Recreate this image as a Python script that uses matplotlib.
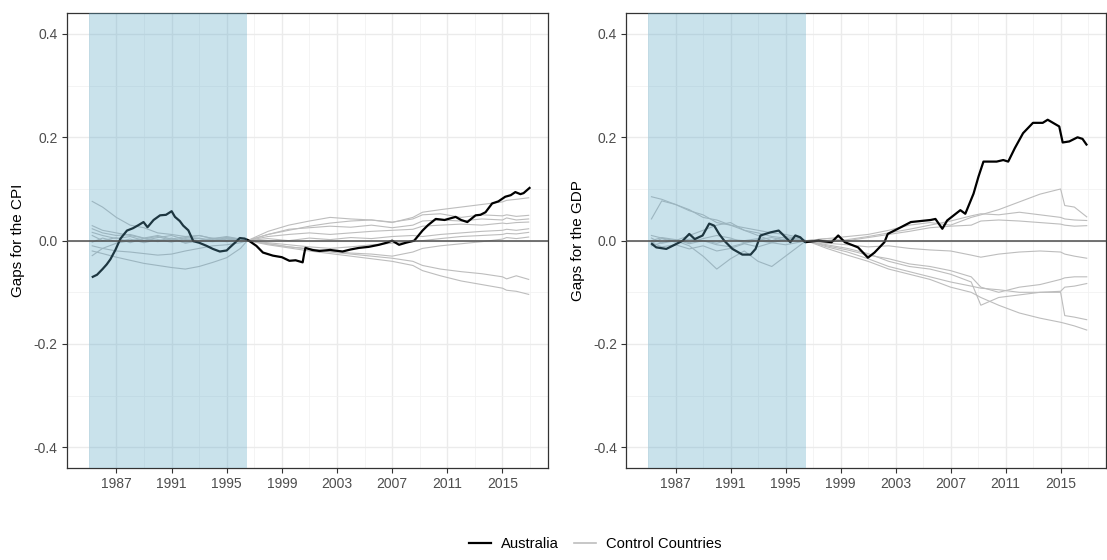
import numpy as np
import matplotlib
matplotlib.use("Agg")
import matplotlib.pyplot as plt
from matplotlib.lines import Line2D

plt.rcParams['font.family'] = ['Liberation Sans', 'DejaVu Sans']

# Australia gaps
cpi_aus_years = [1985.29, 1985.6, 1986.0, 1986.3, 1986.57, 1986.93, 1987.3, 1987.77, 1988.2, 1988.6,
                 1988.97, 1989.26, 1989.7, 1990.17, 1990.6, 1991.01, 1991.25, 1991.6, 1991.85, 1992.22,
                 1992.58, 1993.0, 1993.54, 1994.0, 1994.5, 1995.0, 1995.23, 1995.6, 1995.95, 1996.3,
                 1996.55, 1997.15, 1997.63, 1998.35, 1999.0, 1999.55, 2000.0, 2000.51, 2000.6, 2000.71,
                 2001.2, 2001.72, 2002.5, 2003.4, 2004.0, 2004.6, 2005.3, 2006.05, 2006.6, 2007.0,
                 2007.5, 2008.0, 2008.6, 2009.2, 2009.6, 2010.16, 2010.8, 2011.6, 2012.0, 2012.45,
                 2013.05, 2013.4, 2013.77, 2014.25, 2014.7, 2015.2, 2015.6, 2015.93, 2016.3, 2016.53,
                 2016.96]
cpi_aus = [-0.070, -0.066, -0.055, -0.046, -0.036, -0.018, 0.004, 0.0195, 0.024, 0.030,
           0.036, 0.026, 0.040, 0.049, 0.050, 0.057, 0.046, 0.038, 0.029, 0.020,
           -0.001, -0.004, -0.010, -0.016, -0.021, -0.019, -0.013, -0.004, 0.005, 0.004,
           0.001, -0.010, -0.023, -0.029, -0.032, -0.039, -0.038, -0.042, -0.028, -0.014,
           -0.018, -0.020, -0.018, -0.021, -0.017, -0.014, -0.012, -0.008, -0.004, 0.000,
           -0.008, -0.004, 0.000, 0.0195, 0.030, 0.042, 0.040, 0.046, 0.040, 0.036,
           0.049, 0.050, 0.055, 0.072, 0.076, 0.085, 0.088, 0.094, 0.090, 0.092,
           0.102]

gdp_aus_years = [1985.29, 1985.6, 1986.33, 1987.05, 1987.53, 1988.0, 1988.4, 1988.97, 1989.45, 1989.81,
                 1990.17, 1990.54, 1991.14, 1991.86, 1992.46, 1992.82, 1993.18, 1993.9, 1994.5, 1994.87,
                 1995.35, 1995.71, 1996.07, 1996.43, 1997.4, 1998.35, 1998.83, 1999.31, 2000.27, 2000.99,
                 2001.47, 2002.19, 2002.43, 2003.39, 2004.11, 2005.55, 2005.9, 2006.4, 2006.75, 2007.71,
                 2008.07, 2008.67, 2009.03, 2009.39, 2010.35, 2010.83, 2011.19, 2011.67, 2012.27, 2012.99,
                 2013.7, 2014.06, 2014.9, 2015.15, 2015.63, 2016.23, 2016.59, 2016.88]
gdp_aus = [-0.0065, -0.013, -0.016, -0.0065, 0.000, 0.013, 0.003, 0.010, 0.033, 0.029,
           0.013, 0.000, -0.016, -0.027, -0.027, -0.016, 0.010, 0.016, 0.0195, 0.010,
           -0.003, 0.010, 0.0065, -0.003, 0.000, -0.003, 0.010, -0.003, -0.013, -0.033,
           -0.023, -0.003, 0.013, 0.026, 0.036, 0.040, 0.042, 0.023, 0.039, 0.059,
           0.052, 0.091, 0.124, 0.153, 0.153, 0.156, 0.153, 0.179, 0.208, 0.228,
           0.228, 0.234, 0.221, 0.190, 0.192, 0.200, 0.197, 0.186]

# control countries (shared year grid)
ctrl_years = [1985.25, 1986, 1987, 1988, 1989, 1990, 1991, 1992, 1993, 1994, 1995, 1996, 1996.5,
              1998, 1999.5, 2001, 2002.5, 2004, 2005.5, 2007, 2008.5, 2009.2, 2010.5, 2012, 2013.5,
              2015, 2015.3, 2016, 2016.9]

cpi_ctrl = [
    [0.076, 0.065, 0.045, 0.030, 0.025, 0.015, 0.012, 0.008, 0.010, 0.004, 0.006, 0.003, 0.0, 0.012, 0.020, 0.028, 0.034, 0.038, 0.040, 0.035, 0.045, 0.055, 0.060, 0.065, 0.070, 0.075, 0.078, 0.080, 0.083],
    [0.029, 0.020, 0.015, 0.010, 0.005, 0.000, 0.005, -0.005, 0.000, 0.005, 0.000, 0.005, 0.0, 0.018, 0.030, 0.038, 0.045, 0.042, 0.040, 0.036, 0.042, 0.050, 0.052, 0.045, 0.050, 0.048, 0.050, 0.047, 0.049],
    [0.023, 0.015, 0.010, 0.012, 0.005, 0.010, 0.003, 0.008, 0.004, 0.000, 0.006, 0.002, 0.0, 0.012, 0.022, 0.025, 0.028, 0.026, 0.030, 0.025, 0.030, 0.038, 0.040, 0.038, 0.042, 0.040, 0.044, 0.040, 0.042],
    [0.016, 0.010, 0.004, 0.008, 0.000, 0.006, 0.010, 0.002, 0.005, 0.000, 0.004, 0.001, 0.0, 0.008, 0.012, 0.015, 0.012, 0.015, 0.018, 0.020, 0.022, 0.028, 0.030, 0.032, 0.030, 0.034, 0.033, 0.035, 0.036],
    [-0.003, 0.005, -0.002, 0.003, -0.004, 0.002, -0.003, 0.004, 0.000, -0.002, 0.003, 0.000, 0.0, 0.004, 0.000, 0.005, 0.002, 0.006, 0.004, 0.008, 0.010, 0.008, 0.012, 0.015, 0.018, 0.020, 0.022, 0.020, 0.023],
    [-0.010, -0.015, -0.020, -0.022, -0.025, -0.028, -0.026, -0.020, -0.015, -0.010, -0.008, -0.004, 0.0, -0.004, -0.008, -0.012, -0.015, -0.012, -0.008, -0.005, -0.002, 0.000, 0.004, 0.008, 0.010, 0.012, 0.014, 0.013, 0.016],
    [-0.020, -0.025, -0.032, -0.038, -0.044, -0.048, -0.052, -0.055, -0.050, -0.042, -0.033, -0.015, 0.0, -0.006, -0.012, -0.016, -0.020, -0.024, -0.026, -0.030, -0.022, -0.015, -0.010, -0.006, -0.002, 0.003, 0.006, 0.004, 0.007],
    [-0.029, -0.015, -0.005, 0.000, 0.004, -0.002, 0.003, -0.004, 0.000, 0.002, -0.002, 0.002, 0.0, -0.006, -0.012, -0.016, -0.022, -0.026, -0.030, -0.034, -0.040, -0.048, -0.055, -0.060, -0.064, -0.070, -0.074, -0.068, -0.075],
    [0.010, 0.000, 0.006, -0.004, 0.004, 0.008, 0.000, 0.006, 0.010, 0.004, 0.008, 0.003, 0.0, -0.008, -0.014, -0.020, -0.025, -0.030, -0.035, -0.040, -0.048, -0.058, -0.068, -0.078, -0.085, -0.092, -0.096, -0.098, -0.104],
]

gdp_ctrl = [
    [0.085, 0.080, 0.070, 0.060, 0.045, 0.040, 0.030, 0.025, 0.020, 0.015, 0.012, 0.006, 0.0, 0.004, 0.008, 0.012, 0.020, 0.030, 0.035, 0.030, 0.045, 0.050, 0.060, 0.075, 0.090, 0.100, 0.068, 0.065, 0.046],
    [0.042, 0.077, 0.070, 0.058, 0.050, 0.035, 0.030, 0.020, 0.010, 0.000, 0.008, 0.004, 0.0, -0.004, 0.002, 0.008, 0.015, 0.022, 0.030, 0.038, 0.048, 0.052, 0.050, 0.055, 0.050, 0.045, 0.042, 0.040, 0.039],
    [0.010, 0.005, 0.000, -0.010, -0.030, -0.055, -0.035, -0.020, -0.040, -0.050, -0.030, -0.010, 0.0, 0.004, 0.000, 0.006, 0.012, 0.018, 0.025, 0.028, 0.030, 0.038, 0.040, 0.038, 0.035, 0.032, 0.030, 0.028, 0.029],
    [0.005, -0.005, 0.000, 0.010, 0.020, 0.030, 0.035, 0.020, 0.015, 0.008, 0.005, 0.003, 0.0, -0.005, -0.008, -0.012, -0.010, -0.015, -0.018, -0.020, -0.028, -0.032, -0.026, -0.022, -0.020, -0.022, -0.026, -0.030, -0.034],
    [-0.005, 0.004, -0.003, 0.003, 0.000, -0.005, 0.002, 0.000, 0.004, -0.002, 0.003, 0.000, 0.0, -0.010, -0.018, -0.028, -0.035, -0.045, -0.050, -0.058, -0.070, -0.090, -0.100, -0.090, -0.085, -0.075, -0.072, -0.070, -0.070],
    [0.000, 0.006, 0.002, -0.004, 0.004, 0.010, 0.005, -0.004, 0.002, 0.006, 0.000, 0.003, 0.0, -0.008, -0.015, -0.025, -0.040, -0.050, -0.055, -0.065, -0.080, -0.125, -0.110, -0.105, -0.100, -0.098, -0.090, -0.088, -0.083],
    [-0.010, -0.004, 0.002, -0.006, 0.000, -0.008, -0.012, -0.005, 0.000, -0.004, 0.002, -0.002, 0.0, -0.012, -0.022, -0.035, -0.050, -0.060, -0.070, -0.080, -0.088, -0.092, -0.095, -0.100, -0.100, -0.100, -0.145, -0.148, -0.153],
    [-0.004, -0.012, -0.008, -0.016, -0.010, -0.020, -0.015, -0.006, -0.012, -0.004, -0.008, -0.003, 0.0, -0.015, -0.028, -0.040, -0.055, -0.065, -0.075, -0.090, -0.100, -0.110, -0.125, -0.140, -0.150, -0.158, -0.160, -0.165, -0.173],
]

pre_start, pre_end = 1985.0, 1996.5
x_ticks = [1987, 1991, 1995, 1999, 2003, 2007, 2011, 2015]
y_ticks = [-0.4, -0.2, 0.0, 0.2, 0.4]
y_labels = ['-0.4', '-0.2', '0.0', '0.2', '0.4']

fig = plt.figure(figsize=(11.07, 5.6), dpi=100)
W, H = 1107, 560
bottom = 1 - 468 / H
height = (468 - 13.3) / H
ax1 = fig.add_axes([66.7 / W, bottom, 481.3 / W, height])
ax2 = fig.add_axes([626 / W, bottom, 480 / W, height])


def draw_panel(ax, aus_x, aus_y, ctrl, ylabel):
    for c in ctrl:
        ax.plot(ctrl_years, c, color='#BDBDBD', lw=0.8, zorder=2)
    ax.plot(aus_x, aus_y, color='black', lw=1.6, zorder=3)
    # shaded pre-treatment window sits on top of the lines, semi-transparent
    ax.axvspan(pre_start, pre_end, color='#5BA7C5', alpha=0.33, lw=0, zorder=4)
    ax.axhline(0, color='#4D4D4D', lw=1.1, zorder=5)

    ax.set_xlim(1983.4, 2018.3)
    ax.set_ylim(-0.44, 0.44)
    ax.set_xticks(x_ticks)
    ax.set_xticks(np.arange(1985, 2019, 4), minor=True)
    ax.set_yticks(y_ticks)
    ax.set_yticklabels(y_labels)
    ax.set_yticks([-0.3, -0.1, 0.1, 0.3], minor=True)
    ax.grid(which='major', color='#EBEBEB', lw=1.0, zorder=0)
    ax.grid(which='minor', color='#F2F2F2', lw=0.6, zorder=0)
    ax.set_axisbelow(True)
    ax.tick_params(which='major', length=3.5, width=0.8, color='#333333',
                   labelcolor='#4D4D4D', labelsize=10, pad=3)
    ax.tick_params(which='minor', length=0)
    for s in ax.spines.values():
        s.set_color('#333333')
        s.set_linewidth(0.9)
    ax.set_ylabel(ylabel, fontsize=11, color='black', labelpad=6)


draw_panel(ax1, cpi_aus_years, cpi_aus, cpi_ctrl, 'Gaps for the CPI')
draw_panel(ax2, gdp_aus_years, gdp_aus, gdp_ctrl, 'Gaps for the GDP')

handles = [Line2D([], [], color='black', lw=1.6),
           Line2D([], [], color='#BDBDBD', lw=1.2)]
fig.legend(handles, ['Australia', 'Control Countries'], loc='lower center',
           bbox_to_anchor=(595 / W, -0.008), ncol=2, frameon=False, fontsize=10.6,
           handlelength=1.5, columnspacing=1.0, handletextpad=0.7)

fig.savefig('out.png', dpi=100)
